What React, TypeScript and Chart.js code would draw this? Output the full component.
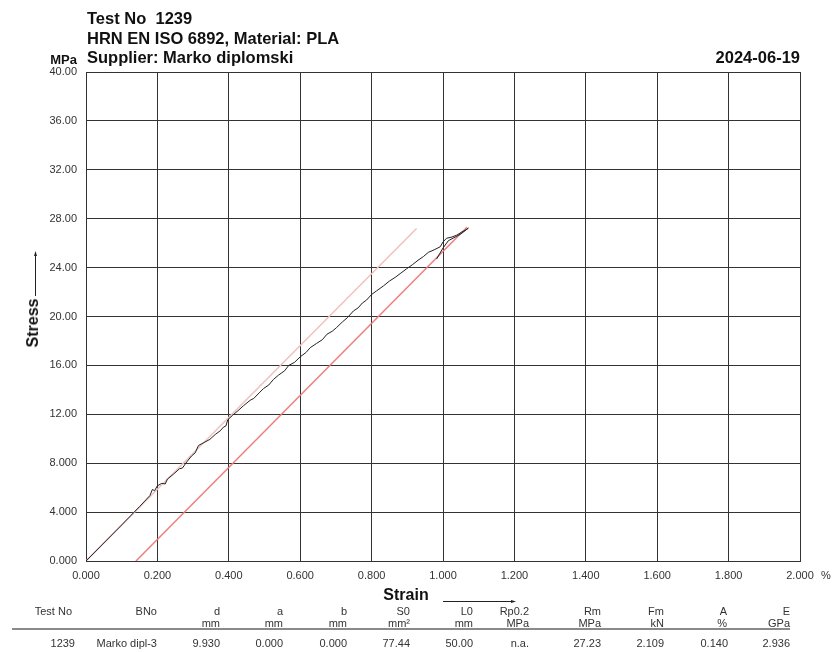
import React, { useEffect, useRef } from "react";
import { Chart, registerables } from "chart.js";

Chart.register(...registerables);

const FONT = '"Liberation Sans", Arial, Helvetica, sans-serif';

// ---- data ----
const curveStrain = [
  0, 0.1, 0.15, 0.179, 0.186, 0.192, 0.2, 0.212, 0.222, 0.228, 0.245, 0.262, 0.27, 0.282, 0.296,
  0.306, 0.315, 0.328, 0.347, 0.362, 0.376, 0.385, 0.392, 0.397, 0.41, 0.426, 0.441, 0.46, 0.47,
  0.485, 0.497, 0.512, 0.525, 0.539, 0.556, 0.568, 0.584, 0.6, 0.616, 0.628, 0.646, 0.662, 0.675,
  0.69, 0.702, 0.718, 0.732, 0.749, 0.762, 0.774, 0.786, 0.8, 0.814, 0.833, 0.85, 0.866, 0.882,
  0.898, 0.915, 0.93, 0.945, 0.959, 0.975, 0.992, 1.0, 1.01, 1.025, 1.038, 1.052, 1.062, 1.071,
  1.05, 1.015, 1.0, 0.982,
];
const curveStress = [
  0, 2.95, 4.45, 5.35, 5.85, 5.75, 6.15, 6.35, 6.3, 6.7, 7.1, 7.55, 7.6, 8.1, 8.6,
  8.85, 9.45, 9.65, 9.95, 10.35, 10.65, 10.95, 11.05, 11.55, 11.9, 12.3, 12.7, 13.15, 13.3,
  13.75, 14.1, 14.4, 14.85, 15.2, 15.55, 16.0, 16.25, 16.7, 17.05, 17.45, 17.8, 18.1, 18.55,
  18.8, 19.1, 19.55, 19.9, 20.45, 20.7, 21.1, 21.35, 21.8, 22.1, 22.5, 22.9, 23.2, 23.55,
  23.9, 24.25, 24.6, 24.9, 25.25, 25.45, 25.7, 26.1, 26.4, 26.5, 26.65, 26.9, 27.05, 27.23,
  26.75, 26.2, 25.6, 24.7,
];
const modulusStrain = [0, 0.926];
const modulusStress = [0, 27.2];
const offsetStrain = [0.14, 1.067];
const offsetStress = [0, 27.3];

const tableHeaders = ["Test No", "BNo", "d", "a", "b", "S0", "L0", "Rp0.2", "Rm", "Fm", "A", "E"];
const tableUnits = ["", "", "mm", "mm", "mm", "mm²", "mm", "MPa", "MPa", "kN", "%", "GPa"];
const tableValues = ["1239", "Marko dipl-3", "9.930", "0.000", "0.000", "77.44", "50.00", "n.a.", "27.23", "2.109", "0.140", "2.936"];
const headerRight = [72, 157, 220, 283, 347, 410, 473, 529, 601, 664, 727, 790];
const valueRight = [75, 157, 220, 283, 347, 410, 473, 529, 601, 664, 728, 790];

type TProps = {
  x: number;
  y: number;
  align?: "left" | "right" | "center";
  size?: number;
  bold?: boolean;
  color?: string;
  children: React.ReactNode;
};

function T({ x, y, align = "left", size = 11, bold = false, color = "#333", children }: TProps) {
  const tx = align === "left" ? "0" : align === "right" ? "-100%" : "-50%";
  return (
    <div
      style={{
        position: "absolute",
        left: x,
        top: y,
        transform: `translate(${tx}, -50%)`,
        fontFamily: FONT,
        fontSize: size,
        fontWeight: bold ? 700 : 400,
        lineHeight: `${size}px`,
        color,
        whiteSpace: "pre",
      }}
    >
      {children}
    </div>
  );
}

const pts = (xs: number[], ys: number[]) => xs.map((x, i) => ({ x, y: ys[i] }));

export default function App() {
  const ref = useRef<HTMLCanvasElement>(null);

  useEffect(() => {
    if (!ref.current) return;
    const gridColor = "#333333";
    const chart = new Chart(ref.current, {
      type: "scatter",
      data: {
        datasets: [
          {
            data: pts(curveStrain, curveStress),
            showLine: true,
            borderColor: "#222222",
            borderWidth: 1,
            pointRadius: 0,
          },
          {
            data: pts(offsetStrain, offsetStress),
            showLine: true,
            borderColor: "rgba(236,120,120,0.95)",
            borderWidth: 1.5,
            pointRadius: 0,
          },
          {
            data: pts(modulusStrain, modulusStress),
            showLine: true,
            borderColor: "rgba(240,192,192,1)",
            borderWidth: 1.5,
            pointRadius: 0,
          },
        ],
      },
      options: {
        responsive: false,
        animation: false,
        layout: { padding: { left: 0, top: 72, right: 38, bottom: 0 } },
        plugins: { legend: { display: false }, tooltip: { enabled: false } },
        scales: {
          x: {
            type: "linear",
            min: 0,
            max: 2,
            ticks: {
              stepSize: 0.2,
              autoSkip: false,
              maxRotation: 0,
              padding: 8,
              color: "#333",
              font: { family: FONT, size: 11 },
              callback: (v) => Number(v).toFixed(3),
            },
            grid: { color: gridColor, lineWidth: 1, drawTicks: false },
            border: { color: gridColor, width: 1 },
            afterFit: (s: any) => {
              s.height = 91;
            },
          },
          y: {
            type: "linear",
            min: 0,
            max: 40,
            ticks: {
              stepSize: 4,
              autoSkip: false,
              padding: 9,
              color: "#333",
              font: { family: FONT, size: 11 },
              callback: (v) => {
                const n = Number(v);
                return n >= 10 ? n.toFixed(2) : n.toFixed(3);
              },
            },
            grid: { color: gridColor, lineWidth: 1, drawTicks: false },
            border: { color: gridColor, width: 1 },
            afterFit: (s: any) => {
              s.width = 86;
            },
          },
        },
      },
    });
    return () => chart.destroy();
  }, []);

  return (
    <div style={{ position: "fixed", left: 0, top: 0, width: 838, height: 652, background: "#fff", overflow: "hidden" }}>
      <canvas ref={ref} width={838} height={652} style={{ position: "absolute", left: 0, top: 0, width: 838, height: 652 }} />

      <T x={87} y={18} size={16.5} bold color="#111">{"Test No  1239"}</T>
      <T x={87} y={37.5} size={16.5} bold color="#111">HRN EN ISO 6892, Material: PLA</T>
      <T x={87} y={56.5} size={16.5} bold color="#111">Supplier: Marko diplomski</T>
      <T x={77} y={58.5} size={13} bold align="right" color="#111">MPa</T>
      <T x={800} y={56.5} size={16.5} bold align="right" color="#111">2024-06-19</T>

      <T x={826} y={575} size={11} align="center">%</T>

      <div
        style={{
          position: "absolute",
          left: 33,
          top: 323,
          transform: "translate(-50%, -50%) rotate(-90deg)",
          fontFamily: FONT,
          fontSize: 16,
          fontWeight: 700,
          lineHeight: "16px",
          color: "#111",
          whiteSpace: "pre",
        }}
      >
        Stress
      </div>
      <T x={406} y={595} size={16} bold align="center" color="#111">Strain</T>

      <svg width={838} height={652} style={{ position: "absolute", left: 0, top: 0, pointerEvents: "none" }}>
        <line x1={35.5} y1={296} x2={35.5} y2={253} stroke="#222" strokeWidth={1} />
        <path d="M35.5 251 L34 256 L37 256 Z" fill="#222" />
        <line x1={443} y1={601.5} x2={514} y2={601.5} stroke="#222" strokeWidth={1} />
        <path d="M516 601.5 L511 600 L511 603 Z" fill="#222" />
        <line x1={12} y1={629} x2={790} y2={629} stroke="#8a8a8a" strokeWidth={2} />
      </svg>

      {tableHeaders.map((h, i) =>
        <T key={"h" + i} x={headerRight[i]} y={611} align="right">{h}</T>
      )}
      {tableUnits.map((u, i) =>
        u ? <T key={"u" + i} x={headerRight[i]} y={623} align="right">{u}</T> : null
      )}
      {tableValues.map((v, i) =>
        <T key={"v" + i} x={valueRight[i]} y={643} align="right">{v}</T>
      )}
    </div>
  );
}
